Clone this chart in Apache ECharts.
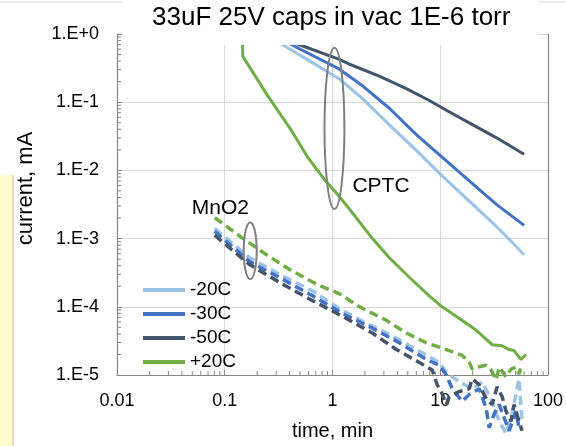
<!DOCTYPE html>
<html>
<head>
<meta charset="utf-8">
<script src="https://cdn.jsdelivr.net/npm/echarts@6/dist/echarts.min.js"></script>
<style>
html,body{margin:0;padding:0;background:#fff;}
#chart{width:566px;height:446px;}
</style>
</head>
<body>
<div id="chart"></div>
<script>
// ---------- axis ticks ----------
const xTicks = [0.01, 0.1, 1, 10, 100];
const xTickLabels = ['0.01', '0.1', '1', '10', '100'];
const yTicks = [1e-5, 1e-4, 1e-3, 1e-2, 1e-1, 1];
const yTickLabels = ['1.E-5', '1.E-4', '1.E-3', '1.E-2', '1.E-1', '1.E+0'];
const minorMultipliers = [2, 3, 4, 5, 6, 7, 8, 9];
const xDecades = [0.01, 0.1, 1, 10];
const yDecades = [1e-5, 1e-4, 1e-3, 1e-2, 1e-1];

// ---------- legend names ----------
const legendNames = ['-20C', '-30C', '-50C', '+20C'];

// ---------- CPTC (solid) ----------
const cptcM20Time = [0.29, 0.344, 0.6, 1.16, 1.90, 3.37, 6.0, 10.4, 18.6, 33.0, 45, 60.0];
const cptcM20Cur  = [0.82, 0.695, 0.41, 0.219, 0.113, 0.0465, 0.0197, 0.0083, 0.00355, 0.00152, 9.3e-4, 5.78e-4];

const cptcM30Time = [0.323, 0.417, 1.16, 1.90, 3.37, 6.0, 10.4, 18.6, 33.0, 60.0];
const cptcM30Cur  = [0.85, 0.695, 0.305, 0.174, 0.0815, 0.0334, 0.0157, 0.00700, 0.00320, 0.00156];

const cptcM50Time = [0.36, 0.494, 1.16, 1.44, 2.72, 4.84, 7.91, 11.4, 18.6, 33.0, 60.0];
const cptcM50Cur  = [0.84, 0.695, 0.424, 0.36, 0.242, 0.158, 0.106, 0.0763, 0.0497, 0.0303, 0.0173];

const cptcP20Time = [0.146, 0.147, 0.25, 0.417, 0.587, 0.843, 1.11, 1.435, 2.34, 3.37, 5.16, 7.91, 10.4, 12.1, 16.0, 21.5, 30.3, 37.5, 43.5, 48.4, 56.2, 62.5];
const cptcP20Cur  = [0.9, 0.47, 0.125, 0.0382, 0.0157, 0.00733, 0.00447, 0.00272, 0.00101, 5.24e-4, 2.71e-4, 1.45e-4, 1.0e-4, 8.5e-5, 6.3e-5, 4.56e-5, 2.78e-5, 2.69e-5, 2.36e-5, 2.28e-5, 1.69e-5, 2.0e-5];

// ---------- MnO2 (dashed) ----------
const mnM20Time = [0.0807, 0.170, 0.323, 0.653, 1.24, 2.07, 3.59, 6.0, 9.8, 11.4, 15.0, 19.8, 24.5, 30.3, 35.2, 40.8, 46.4, 53.8, 57.4];
const mnM20Cur  = [1.41e-3, 5.24e-4, 2.99e-4, 1.71e-4, 8.8e-5, 5.75e-5, 3.74e-5, 2.36e-5, 1.53e-5, 1.10e-5, 7.9e-6, 6.3e-6, 7.9e-6, 4.1e-6, 2.1e-6, 1.38e-6, 2.67e-6, 8.8e-6, 2.1e-6];

const mnM30Time = [0.0807, 0.170, 0.344, 0.653, 1.24, 2.34, 4.17, 7.41, 9.8, 11.4, 12.9, 16.0, 18.6, 23.0, 26.7, 28.4, 31.6, 35.2, 43.5, 50.6, 53.8];
const mnM30Cur  = [1.28e-3, 4.59e-4, 2.54e-4, 1.45e-4, 8.0e-5, 4.87e-5, 2.97e-5, 1.69e-5, 1.39e-5, 1.0e-5, 6.3e-6, 4.1e-6, 5.2e-6, 6.3e-6, 3.26e-6, 1.68e-6, 2.67e-6, 3.7e-6, 1.52e-6, 2.95e-6, 1.68e-6];

const mnM50Time = [0.0807, 0.170, 0.344, 0.653, 1.24, 2.34, 3.92, 6.4, 8.43, 9.37, 10.4, 11.4, 12.1, 15.0, 18.6, 19.8, 23.0, 26.7, 30.3, 33.7, 37.5, 40.8, 45.4, 48.4, 53.8, 57.4];
const mnM50Cur  = [1.12e-3, 4.16e-4, 2.15e-4, 1.23e-4, 7.24e-5, 4.13e-5, 2.36e-5, 1.53e-5, 1.18e-5, 7.2e-6, 5.35e-6, 3.7e-6, 4.84e-6, 5.7e-6, 6.3e-6, 8.8e-6, 7.2e-6, 4.5e-6, 3.7e-6, 6.7e-6, 4.84e-6, 2.95e-6, 2.1e-6, 3.7e-6, 2.1e-6, 1.52e-6];

const mnP20Time = [0.0807, 0.147, 0.245, 0.40, 0.711, 1.16, 1.78, 3.16, 4.84, 7.41, 12.1, 16.0, 18.6, 19.8, 22.0, 26.7, 29.7, 33.0, 35.2, 40.8, 45.4, 50.6, 53.8, 57.4];
const mnP20Cur  = [2.03e-3, 1.01e-3, 5.78e-4, 3.52e-4, 2.15e-4, 1.55e-4, 1.0e-4, 6.34e-5, 4.13e-5, 2.97e-5, 2.28e-5, 1.94e-5, 1.53e-5, 1.22e-5, 1.30e-5, 1.39e-5, 1.18e-5, 8.5e-6, 1.30e-5, 9.4e-6, 1.22e-5, 1.30e-5, 1.03e-5, 1.44e-5];

// ---------- annotations (data coordinates) ----------
// [centerT, centerI, leftT, rightT, topI, bottomI]
const ellipses = [
  [1.04, 0.041, 0.843, 1.29, 0.63, 0.00272],
  [0.174, 6.6e-4, 0.150, 0.198, 1.72e-3, 2.54e-4]
];
const labelTexts = ['CPTC', 'MnO2'];
const labelPos = [[1.53, 5.8e-3], [0.0495, 2.82e-3]];

const colors = {
  '-20C': '#9DC3E6',
  '-30C': '#4472C4',
  '-50C': '#44546A',
  '+20C': '#70AD47'
};

const FONT = "'Liberation Sans', Arial, sans-serif";
const AXIS_COLOR = '#868686';

function pairs(ts, vs) { return ts.map((t, i) => [t, vs[i]]); }
function findLabel(ticks, labels, v) {
  const i = ticks.findIndex(t => Math.abs(Math.log10(t) - Math.log10(v)) < 1e-6);
  return i >= 0 ? labels[i] : '';
}

const xMinorData = [];
xDecades.forEach(d => minorMultipliers.forEach(m => xMinorData.push([d * m, 1e-5])));
const yMinorData = [];
yDecades.forEach(d => minorMultipliers.forEach(m => yMinorData.push([0.01, d * m])));

function solid(name, ts, vs) {
  return {
    name: name, type: 'line', data: pairs(ts, vs),
    symbol: 'none', showSymbol: false, clip: true, z: 3,
    lineStyle: { color: colors[name], width: 3 },
    itemStyle: { color: colors[name] }
  };
}
function dashed(name, ts, vs) {
  return {
    name: 'MnO2 ' + name, type: 'line', data: pairs(ts, vs),
    symbol: 'none', showSymbol: false, clip: false, z: 3,
    lineStyle: { color: colors[name], width: 3.5, type: [9, 5] },
    itemStyle: { color: colors[name] }
  };
}

const chart = echarts.init(document.getElementById('chart'), null, { renderer: 'canvas' });

const option = {
  animation: false,
  backgroundColor: '#fff',
  textStyle: { fontFamily: FONT },
  title: {
    text: '33uF 25V caps in vac 1E-6 torr',
    left: 122, top: 0,
    padding: [5, 28, 14, 30],
    backgroundColor: '#fff',
    textStyle: { fontSize: 26, fontWeight: 'normal', color: '#000', fontFamily: FONT, lineHeight: 26 }
  },
  legend: {
    data: legendNames,
    orient: 'vertical',
    left: 138, top: 275.5,
    itemWidth: 42, itemHeight: 4, itemGap: 5,
    icon: 'rect',
    textStyle: { fontSize: 19, lineHeight: 19, color: '#000', fontFamily: FONT }
  },
  grid: { left: 117, right: 17, top: 34, bottom: 63, containLabel: false },
  xAxis: {
    type: 'log', logBase: 10, min: 0.01, max: 100,
    name: 'time, min', nameLocation: 'middle', nameGap: 46,
    nameTextStyle: { fontSize: 20, color: '#000', fontFamily: FONT },
    axisLine: { show: true, lineStyle: { color: AXIS_COLOR, width: 1.2 } },
    axisTick: { show: true, inside: true, length: 5, lineStyle: { color: AXIS_COLOR } },
    axisLabel: { fontSize: 18, color: '#000', margin: 17, fontFamily: FONT,
      formatter: v => findLabel(xTicks, xTickLabels, v) },
    splitLine: { show: true, lineStyle: { color: '#D9D9D9', width: 1 } },
    minorTick: { show: false }
  },
  yAxis: [{
    type: 'log', logBase: 10, min: 1e-5, max: 1,
    name: 'current, mA', nameLocation: 'middle', nameGap: 80,
    nameTextStyle: { fontSize: 22, color: '#000', fontFamily: FONT, padding: [0, 0, 0, 32] },
    axisLine: { show: true, lineStyle: { color: AXIS_COLOR, width: 1.2 } },
    axisTick: { show: true, inside: true, length: 5, lineStyle: { color: AXIS_COLOR } },
    axisLabel: { fontSize: 18, color: '#000', margin: 18, fontFamily: FONT,
      formatter: v => findLabel(yTicks, yTickLabels, v) },
    splitLine: { show: true, lineStyle: { color: '#D9D9D9', width: 1 } }
  }, {
    type: 'log', logBase: 10, min: 1e-5, max: 1, position: 'right',
    axisLine: { show: true, lineStyle: { color: AXIS_COLOR, width: 1.2 } },
    axisTick: { show: false }, axisLabel: { show: false }, splitLine: { show: false }
  }],
  graphic: [
    { type: 'rect', z: 0, shape: { x: 0, y: 175, width: 13, height: 271 }, style: { fill: '#FFFCCF' } },
    { type: 'line', z: 0, shape: { x1: 13, y1: 175, x2: 13, y2: 446 }, style: { stroke: '#D8D6B4', lineWidth: 1.5 } },
    { type: 'line', z: 0, shape: { x1: 0, y1: 2, x2: 566, y2: 2 }, style: { stroke: '#EAEAEA', lineWidth: 2 } }
  ],
  series: [
    dashed('-20C', mnM20Time, mnM20Cur),
    dashed('-30C', mnM30Time, mnM30Cur),
    dashed('-50C', mnM50Time, mnM50Cur),
    dashed('+20C', mnP20Time, mnP20Cur),
    solid('-20C', cptcM20Time, cptcM20Cur),
    solid('-30C', cptcM30Time, cptcM30Cur),
    solid('-50C', cptcM50Time, cptcM50Cur),
    solid('+20C', cptcP20Time, cptcP20Cur),
    {
      name: 'xMinorTicks', type: 'custom', data: xMinorData, clip: false, z: 4, silent: true,
      renderItem: (params, api) => {
        const p = api.coord([api.value(0), api.value(1)]);
        return { type: 'line', shape: { x1: p[0], y1: p[1], x2: p[0], y2: p[1] - 4 },
          style: { stroke: AXIS_COLOR, lineWidth: 1 } };
      }
    },
    {
      name: 'yMinorTicks', type: 'custom', data: yMinorData, clip: false, z: 4, silent: true,
      renderItem: (params, api) => {
        const p = api.coord([api.value(0), api.value(1)]);
        return { type: 'line', shape: { x1: p[0], y1: p[1], x2: p[0] + 4, y2: p[1] },
          style: { stroke: AXIS_COLOR, lineWidth: 1 } };
      }
    },
    {
      name: 'ellipses', type: 'custom', data: ellipses, clip: false, z: 5, silent: true,
      renderItem: (params, api) => {
        const l = api.coord([api.value(2), api.value(1)]);
        const r = api.coord([api.value(3), api.value(1)]);
        const t = api.coord([api.value(0), api.value(4)]);
        const b = api.coord([api.value(0), api.value(5)]);
        return { type: 'ellipse',
          shape: { cx: (l[0] + r[0]) / 2, cy: (t[1] + b[1]) / 2, rx: Math.abs(r[0] - l[0]) / 2, ry: Math.abs(b[1] - t[1]) / 2 },
          style: { fill: 'none', stroke: '#808080', lineWidth: 2 } };
      }
    },
    {
      name: 'labels', type: 'custom', data: labelPos, clip: false, z: 5, silent: true,
      renderItem: (params, api) => {
        const p = api.coord([api.value(0), api.value(1)]);
        return { type: 'text',
          style: { text: labelTexts[params.dataIndex], x: p[0], y: p[1], fontSize: 21, fontFamily: FONT,
            fill: '#000', align: 'left', verticalAlign: 'middle' } };
      }
    }
  ]
};
chart.setOption(option);
</script>
</body>
</html>
